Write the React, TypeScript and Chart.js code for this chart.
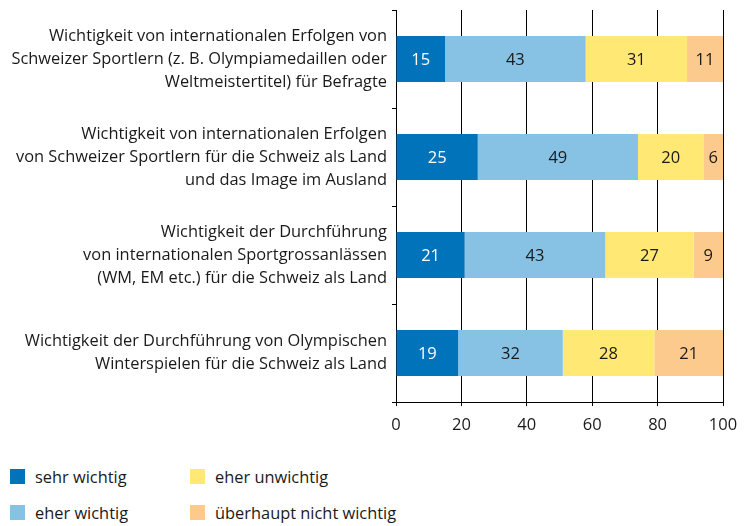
import React, { useEffect, useRef } from "react";
import { Chart, registerables } from "chart.js";

Chart.register(...registerables);

const categories: string[][] = [
  ["Wichtigkeit von internationalen Erfolgen von", "Schweizer Sportlern (z. B. Olympiamedaillen oder", "Weltmeistertitel) für Befragte"],
  ["Wichtigkeit von internationalen Erfolgen", "von Schweizer Sportlern für die Schweiz als Land", "und das Image im Ausland"],
  ["Wichtigkeit der Durchführung", "von internationalen Sportgrossanlässen", "(WM, EM etc.) für die Schweiz als Land"],
  ["Wichtigkeit der Durchführung von Olympischen", "Winterspielen für die Schweiz als Land"],
];

const seriesNames = ["sehr wichtig", "eher wichtig", "eher unwichtig", "überhaupt nicht wichtig"];
const sehrWichtig = [15, 25, 21, 19];
const eherWichtig = [43, 49, 43, 32];
const eherUnwichtig = [31, 20, 27, 28];
const ueberhauptNicht = [11, 6, 9, 21];
const xTicks = [0, 20, 40, 60, 80, 100];

const colors = ["#0073BB", "#87C2E4", "#FFE873", "#FDCA8E"];
const labelColors = ["#ffffff", "#1a1a1a", "#1a1a1a", "#1a1a1a"];
const FONT = "'Open Sans', sans-serif";

const valueLabels = {
  id: "valueLabels",
  afterDatasetsDraw(chart: any) {
    const ctx = chart.ctx;
    ctx.save();
    ctx.font = `16.5px ${FONT}`;
    ctx.textAlign = "center";
    ctx.textBaseline = "middle";
    chart.data.datasets.forEach((ds: any, di: number) => {
      const meta = chart.getDatasetMeta(di);
      meta.data.forEach((bar: any, i: number) => {
        const x = (bar.x + bar.base) / 2;
        ctx.fillStyle = labelColors[di];
        ctx.fillText(String(ds.data[i]), x, bar.y + 1);
      });
    });
    ctx.restore();
  },
};

export default function App() {
  const ref = useRef<HTMLCanvasElement>(null);
  useEffect(() => {
    if (!ref.current) return;
    const data = [sehrWichtig, eherWichtig, eherUnwichtig, ueberhauptNicht];
    const chart = new Chart(ref.current, {
      type: "bar",
      data: {
        labels: categories,
        datasets: data.map((d, i) => ({
          label: seriesNames[i],
          data: d,
          backgroundColor: colors[i],
          borderWidth: 0,
          barPercentage: 0.47,
          categoryPercentage: 1,
        })),
      },
      options: {
        indexAxis: "y",
        animation: false,
        responsive: false,
        devicePixelRatio: 1,
        layout: { padding: { top: 10, right: 26, left: 0, bottom: 0 } },
        plugins: { legend: { display: false }, tooltip: { enabled: false } },
        scales: {
          x: {
            stacked: true,
            min: 0,
            max: 100,
            afterBuildTicks: (s: any) => {
              s.ticks = xTicks.map((v) => ({ value: v }));
            },
            afterFit: (s: any) => {
              s.height = 38;
              s.paddingLeft = 0;
              s.paddingRight = 0;
            },
            grid: { color: "#000", lineWidth: 1, tickLength: 4, drawTicks: true },
            border: { color: "#000", width: 1 },
            ticks: { color: "#1a1a1a", font: { family: FONT, size: 16.5 }, padding: 9, maxRotation: 0 },
          },
          y: {
            stacked: true,
            afterFit: (s: any) => {
              s.width = 396;
              s.paddingTop = 0;
              s.paddingBottom = 0;
            },
            grid: { drawOnChartArea: false, color: "#000", tickLength: 4, offset: true },
            border: { color: "#000", width: 1 },
            ticks: {
              color: "#1a1a1a",
              font: { family: FONT, size: 16.4, lineHeight: 1.4 },
              padding: 5,
              autoSkip: false,
            },
          },
        },
      },
      plugins: [valueLabels],
    });
    return () => chart.destroy();
  }, []);

  const legendItem = (i: number, left: number, top: number) => (
    <div key={i} style={{ position: "absolute", left, top, display: "flex", alignItems: "center" }}>
      <div style={{ width: 15, height: 15, background: colors[i] }} />
      <span style={{ marginLeft: 10, fontFamily: FONT, fontSize: 16.4, color: "#1a1a1a" }}>{seriesNames[i]}</span>
    </div>
  );

  return (
    <div style={{ position: "fixed", left: 0, top: 0, width: 749, height: 526, background: "#fff" }}>
      <canvas ref={ref} width={749} height={440} style={{ display: "block" }} />
      {legendItem(0, 10, 465)}
      {legendItem(1, 10, 501)}
      {legendItem(2, 190, 465)}
      {legendItem(3, 190, 501)}
    </div>
  );
}
